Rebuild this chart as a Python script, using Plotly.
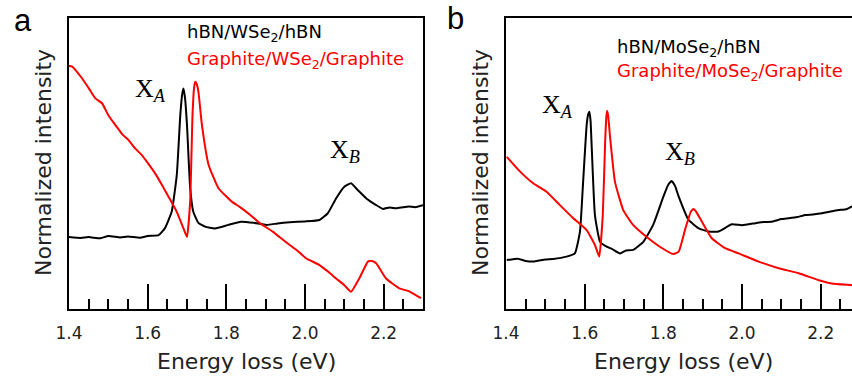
import plotly.graph_objects as go

# ---------------- data (normalized intensity, arbitrary units 0-100) ----------------
# Panel a: WSe2
a_black_x = [1.400, 1.430, 1.450, 1.480, 1.500, 1.530, 1.550, 1.580, 1.600, 1.628, 1.644, 1.661,
             1.674, 1.683, 1.688, 1.691, 1.695, 1.700, 1.708, 1.716, 1.729, 1.746, 1.771, 1.805,
             1.837, 1.870, 1.902, 1.930, 1.961, 2.000, 2.037, 2.058, 2.079, 2.100, 2.117, 2.134,
             2.156, 2.181, 2.198, 2.215, 2.232, 2.250, 2.265, 2.280, 2.300]
a_black_y = [24.7, 24.4, 24.7, 24.3, 25.1, 24.6, 24.9, 24.5, 25.1, 25.4, 27.8, 33.4,
             46.0, 66.7, 74.0, 75.8, 72.5, 63.2, 41.6, 33.4, 29.6, 28.3, 27.7, 28.9,
             30.0, 29.6, 28.9, 29.4, 29.8, 30.1, 30.6, 32.9, 38.0, 42.0, 43.2, 40.9,
             38.0, 35.7, 34.4, 34.9, 34.6, 35.0, 35.2, 35.0, 35.7]

a_red_x = [1.400, 1.408, 1.433, 1.450, 1.467, 1.484, 1.500, 1.518, 1.535, 1.551, 1.568, 1.585,
           1.602, 1.619, 1.636, 1.653, 1.674, 1.691, 1.700, 1.708, 1.714, 1.718, 1.721, 1.725,
           1.729, 1.738, 1.755, 1.780, 1.814, 1.834, 1.860, 1.885, 1.918, 1.940, 1.961, 1.980,
           2.003, 2.037, 2.060, 2.079, 2.100, 2.117, 2.138, 2.160, 2.170, 2.181, 2.206, 2.240,
           2.260, 2.274, 2.295]
a_red_y = [83.5, 83.3, 79.3, 75.9, 72.4, 70.7, 66.6, 63.2, 60.1, 58.1, 55.2, 52.9,
           49.9, 46.6, 42.7, 38.6, 33.4, 27.7, 24.8, 36.9, 66.7, 76.0, 78.1, 77.2,
           74.7, 63.2, 49.5, 41.5, 36.9, 35.1, 32.4, 29.5, 26.6, 24.2, 22.0, 20.1,
           17.4, 15.1, 12.7, 10.5, 8.2, 5.9, 10.5, 16.3, 16.5, 15.7, 10.5, 7.1,
           6.3, 5.4, 3.7]

# Panel b: MoSe2
b_black_x = [1.402, 1.430, 1.450, 1.469, 1.500, 1.520, 1.554, 1.575, 1.588, 1.596, 1.605, 1.609,
             1.612, 1.615, 1.618, 1.626, 1.639, 1.656, 1.670, 1.690, 1.705, 1.723, 1.749, 1.774,
             1.800, 1.812, 1.821, 1.830, 1.839, 1.864, 1.890, 1.915, 1.940, 1.974, 2.000, 2.034,
             2.055, 2.076, 2.100, 2.118, 2.140, 2.161, 2.180, 2.203, 2.225, 2.245, 2.265, 2.279,
             2.300]
b_black_y = [16.8, 17.3, 16.5, 16.3, 17.0, 17.2, 18.0, 19.1, 26.6, 43.7, 63.2, 67.0,
             67.8, 64.5, 55.2, 32.3, 23.1, 21.4, 20.6, 19.1, 20.1, 20.3, 23.1, 28.9,
             38.6, 42.6, 44.0, 42.2, 38.6, 30.6, 27.7, 26.6, 26.6, 29.1, 28.8, 29.5,
             29.9, 30.0, 30.9, 31.2, 31.6, 32.3, 32.5, 32.9, 33.5, 34.0, 34.3, 35.2,
             35.7]

b_red_x = [1.402, 1.436, 1.469, 1.503, 1.537, 1.571, 1.605, 1.626, 1.637, 1.646, 1.652,
           1.655, 1.657, 1.660, 1.664, 1.677, 1.698, 1.723, 1.757, 1.791, 1.825, 1.839,
           1.856, 1.870, 1.877, 1.884, 1.898, 1.923, 1.957, 1.991, 2.042, 2.093, 2.144,
           2.195, 2.228, 2.279, 2.300]
b_red_y = [52.3, 47.2, 43.2, 40.3, 35.7, 31.2, 27.1, 22.0, 18.0, 32.3, 57.5,
           66.0, 68.1, 66.0, 59.8, 43.7, 34.0, 28.9, 24.8, 21.4, 18.9, 19.7,
           27.7, 33.5, 34.4, 33.3, 30.0, 24.3, 20.9, 19.1, 16.3, 14.0, 12.3,
           9.9, 8.8, 8.2, 7.9]

tick_vals = [1.4, 1.6, 1.8, 2.0, 2.2]
tick_text = ["1.4", "1.6", "1.8", "2.0", "2.2"]

labels_a = ["hBN/WSe<sub>2</sub>/hBN", "Graphite/WSe<sub>2</sub>/Graphite"]
labels_b = ["hBN/MoSe<sub>2</sub>/hBN", "Graphite/MoSe<sub>2</sub>/Graphite"]

# ---------------- figure ----------------
W, H = 852, 381
def px(x):
    return x / W
def py(y):
    return 1 - y / H

fig = go.Figure()
def add_line(x, y, color, xa, ya):
    fig.add_trace(go.Scatter(x=x, y=y, mode="lines",
                             line=dict(color=color, width=2, shape="spline", smoothing=0.4),
                             xaxis=xa, yaxis=ya, showlegend=False, hoverinfo="skip"))

add_line(a_black_x, a_black_y, "black", "x", "y")
add_line(a_red_x, a_red_y, "#ff0000", "x", "y")
add_line(b_black_x, b_black_y, "black", "x2", "y2")
add_line(b_red_x, b_red_y, "#ff0000", "x2", "y2")

ydom = [py(309), py(18)]
common_x = dict(tickvals=tick_vals, ticktext=tick_text, ticks="inside", ticklen=25, tickwidth=2,
                tickcolor="black", showline=True, linecolor="black", linewidth=2,
                showgrid=False, zeroline=False, ticklabelstandoff=8, automargin=False,
                tickfont=dict(family="DejaVu Sans", size=17, color="#222"),
                minor=dict(dtick=0.05, tick0=1.4, ticks="inside", ticklen=10, tickwidth=1.5,
                           tickcolor="black", showgrid=False))
common_y = dict(range=[0, 100], showticklabels=False, ticks="", showline=True, linecolor="black",
                linewidth=2, showgrid=False, zeroline=False, domain=ydom, automargin=False)

fig.update_layout(
    width=W, height=H, margin=dict(l=0, r=0, t=0, b=0, pad=0), autosize=False,
    paper_bgcolor="white", plot_bgcolor="white",
    xaxis=dict(common_x, domain=[px(69), px(423)], range=[1.4, 2.3], mirror=True, anchor="y"),
    yaxis=dict(common_y, mirror=True, anchor="x"),
    xaxis2=dict(common_x, domain=[px(506), 1.0], range=[1.4, 2.2794], mirror=True, anchor="y2"),
    yaxis2=dict(common_y, mirror=False, anchor="x2"),
)

ann = []
def txt(x, y, text, size, color="black", family="DejaVu Sans", xanchor="center", yanchor="middle",
        angle=0, xref="paper", yref="paper"):
    ann.append(dict(x=x, y=y, xref=xref, yref=yref, text=text, showarrow=False,
                    xanchor=xanchor, yanchor=yanchor, textangle=angle,
                    font=dict(family=family, size=size, color=color)))

# axis titles
txt(px(246), py(361), "Energy loss (eV)", 22, "#222")
txt(px(683), py(361), "Energy loss (eV)", 22, "#222")
txt(px(43), py(163), "Normalized intensity", 22, "#222", angle=-90)
txt(px(480), py(163), "Normalized intensity", 22, "#222", angle=-90)
# panel letters
txt(px(23), py(20), "a", 31, "black", family="Liberation Sans")
txt(px(456), py(18), "b", 31, "black", family="Liberation Sans")
# legend texts
txt(px(185), py(33), labels_a[0], 18, "black", xanchor="left")
txt(px(185), py(60), labels_a[1], 18, "#ff0000", xanchor="left")
txt(px(615), py(48), labels_b[0], 18, "black", xanchor="left")
txt(px(615), py(72), labels_b[1], 18, "#ff0000", xanchor="left")
# exciton labels
serif = "Liberation Serif"
txt(px(150), py(90), "X<sub><i>A</i></sub>", 26, family=serif)
txt(px(345), py(151), "X<sub><i>B</i></sub>", 26, family=serif)
txt(px(557), py(106), "X<sub><i>A</i></sub>", 26, family=serif)
txt(px(680), py(153), "X<sub><i>B</i></sub>", 26, family=serif)

fig.update_layout(annotations=ann)
post = ("document.body.style.margin='0';document.body.style.padding='0';"
        "document.body.style.overflow='hidden';"
        "document.documentElement.style.overflow='hidden';")
fig.write_html("out.html", config={"responsive": False, "displayModeBar": False},
               post_script=post)
